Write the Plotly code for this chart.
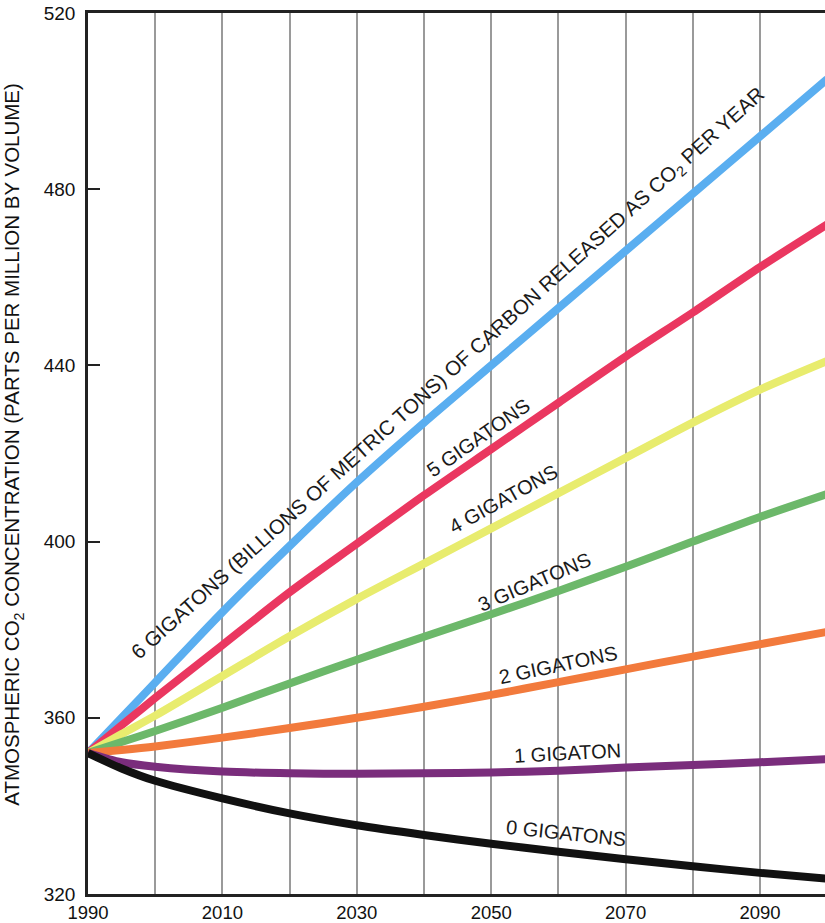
import plotly.graph_objects as go

years = [1990, 1995, 2000, 2010, 2020, 2030, 2040, 2050, 2060, 2070, 2080, 2090, 2100]
gt6 = [352, 360, 368, 384, 399, 413.5, 427, 440, 453, 466, 479, 492, 505]
gt5 = [352, 358.3, 364.5, 376.5, 388.5, 399.5, 410.5, 421, 431.5, 442, 452, 462.3, 472]
gt4 = [352, 356.3, 360.5, 369.5, 378.5, 387, 395, 403, 411, 419, 427, 434.5, 441]
gt3 = [352, 354.5, 357, 362.3, 367.8, 373.2, 378.4, 383.5, 388.8, 394.3, 400, 405.6, 410.8]
gt2 = [352, 352.7, 353.5, 355.5, 357.7, 360, 362.5, 365.2, 368.1, 371, 373.9, 376.7, 379.5]
gt1 = [352, 349.9, 348.9, 347.8, 347.4, 347.3, 347.4, 347.6, 348.0, 348.7, 349.3, 349.9, 350.6]
gt0 = [352, 348.5, 345.7, 341.7, 338.3, 335.6, 333.4, 331.4, 329.6, 327.9, 326.3, 324.8, 323.5]

series = [
    ("6 GIGATONS", gt6, "#5aaef0"),
    ("5 GIGATONS", gt5, "#ea3760"),
    ("4 GIGATONS", gt4, "#e8ec6e"),
    ("3 GIGATONS", gt3, "#6cb86a"),
    ("2 GIGATONS", gt2, "#f27a3c"),
    ("1 GIGATON", gt1, "#7a2d7c"),
    ("0 GIGATONS", gt0, "#111111"),
]

# curve labels: text, x (year), y (ppm), angle, size
label_text = [
    "6 GIGATONS (BILLIONS OF METRIC TONS) OF CARBON RELEASED AS CO<sub>2</sub> PER YEAR",
    "5 GIGATONS", "4 GIGATONS", "3 GIGATONS", "2 GIGATONS", "1 GIGATON", "0 GIGATONS",
]
label_x = [2043.6, 2048.0, 2051.8, 2056.4, 2059.9, 2061.3, 2061.1]
label_y = [438.0, 423.6, 409.7, 390.9, 372.0, 352.0, 333.9]
label_angle = [-42, -35, -29, -23, -12, -3, 6]
label_size = [20.5, 20, 20, 20, 20, 20, 20]

x_tick0 = 1990
x_label_step = 20
x_grid_step = 10
y_ticks = [320, 360, 400, 440, 480, 520]

FONT = "Liberation Sans, Arial, Helvetica, sans-serif"

fig = go.Figure()
for name, vals, col in series:
    fig.add_trace(go.Scatter(
        x=years, y=vals, mode="lines", name=name,
        line=dict(color=col, width=8, shape="spline", smoothing=0.8),
        showlegend=False,
    ))

for t, x, y, a, s in zip(label_text, label_x, label_y, label_angle, label_size):
    fig.add_annotation(x=x, y=y, xref="x", yref="y", text=t, textangle=a,
                       showarrow=False, font=dict(family=FONT, size=s, color="#1a1a1a"))

fig.add_annotation(
    xref="paper", yref="paper", x=0, y=0.51, xshift=-75,
    text="ATMOSPHERIC CO<sub>2</sub> CONCENTRATION (PARTS PER MILLION BY VOLUME)",
    textangle=-90, showarrow=False, xanchor="center", yanchor="middle",
    font=dict(family=FONT, size=20.5, color="#111111"),
)

fig.update_layout(
    width=825, height=923,
    margin=dict(l=88, r=0, t=13, b=29, pad=0, autoexpand=False),
    paper_bgcolor="white", plot_bgcolor="white",
    font=dict(family=FONT, size=19, color="#111111"),
    xaxis=dict(
        range=[1990, 2099.67], tickmode="linear", tick0=x_tick0, dtick=x_label_step,
        showgrid=True, gridcolor="#9a9a9a", gridwidth=1.5,
        minor=dict(tick0=x_tick0, dtick=x_grid_step, showgrid=True,
                   gridcolor="#9a9a9a", gridwidth=1.5, ticks=""),
        showline=True, linecolor="#222222", linewidth=2.5, mirror=True,
        ticks="", zeroline=False, ticklabelstandoff=0, automargin=False,
        tickfont=dict(size=18.5),
    ),
    yaxis=dict(
        range=[320, 520], tickmode="array", tickvals=y_ticks,
        showgrid=False, showline=True, linecolor="#222222", linewidth=2.5,
        ticks="inside", ticklen=12, tickwidth=1.5, tickcolor="#222222",
        zeroline=False, ticklabelstandoff=6, automargin=False,
        tickfont=dict(size=19),
    ),
)

fig.write_html(
    "out.html",
    config={"displayModeBar": False},
    post_script="document.body.style.margin='0';document.body.style.padding='0';document.body.style.overflow='hidden';",
)
